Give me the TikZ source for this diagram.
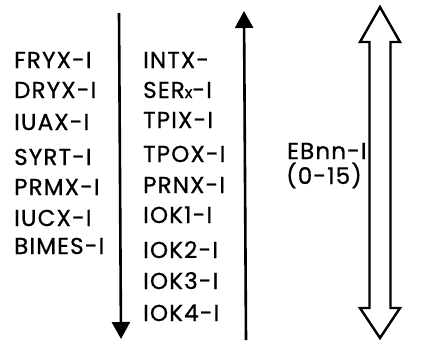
\documentclass[tikz,border=0pt]{standalone}
\usepackage{fontspec}
\setmainfont{Poppins}[LetterSpace=5,FakeBold=0.8]
\usetikzlibrary{arrows.meta}
\begin{document}
\begin{tikzpicture}[x=1pt,y=-1pt,
  lbl/.style={anchor=base west, inner sep=0pt, font=\fontsize{23}{23}\selectfont},
  arr/.style={line width=2.6pt, -{Triangle[length=17pt,width=18pt]}}]
\useasboundingbox (0,0) rectangle (435,340);
% left column
\node[lbl] (l1) at (14,68) {FRYX-I};
\node[lbl] (l2) at (14,98) {DRYX-I};
\node[lbl] (l3) at (14,130) {IUAX-I};
\node[lbl] (l4) at (14,165) {SYRT-I};
\node[lbl] (l5) at (14,195) {PRMX-I};
\node[lbl] (l6) at (14,226) {IUCX-I};
\node[lbl] (l7) at (14,254) {BIMES-I};
% middle column
\node[lbl] (m1) at (143,68) {INTX-};
\node[lbl] (m2) at (143,98) {SER{\fontsize{16}{16}\selectfont x}-I};
\node[lbl] (m3) at (143,128) {TPIX-I};
\node[lbl] (m4) at (143,162) {TPOX-I};
\node[lbl] (m5) at (143,193) {PRNX-I};
\node[lbl] (m6) at (143,223) {IOK1-I};
\node[lbl] (m7) at (143,258) {IOK2-I};
\node[lbl] (m8) at (143,289) {IOK3-I};
\node[lbl] (m9) at (143,321) {IOK4-I};
% right labels
\node[lbl] (e1) at (287,159) {EBnn-I};
\node[lbl] (e2) at (286,184) {(0-15)};
% arrows
\coordinate (lt) at (119,13);
\coordinate (lb) at (121,339);
\draw[arr] (lt) -- (lb);
\coordinate (mb) at (246,340);
\coordinate (mt) at (244,11);
\draw[arr] (mb) -- (mt);
% double arrow
\draw[line width=2.4pt, line join=miter]
  (380,7) -- (400,42) -- (390.5,42) -- (390.5,308) -- (400,308)
  -- (380,338) -- (360,308) -- (369.5,308) -- (369.5,42) -- (360,42) -- cycle;
\end{tikzpicture}
\end{document}
